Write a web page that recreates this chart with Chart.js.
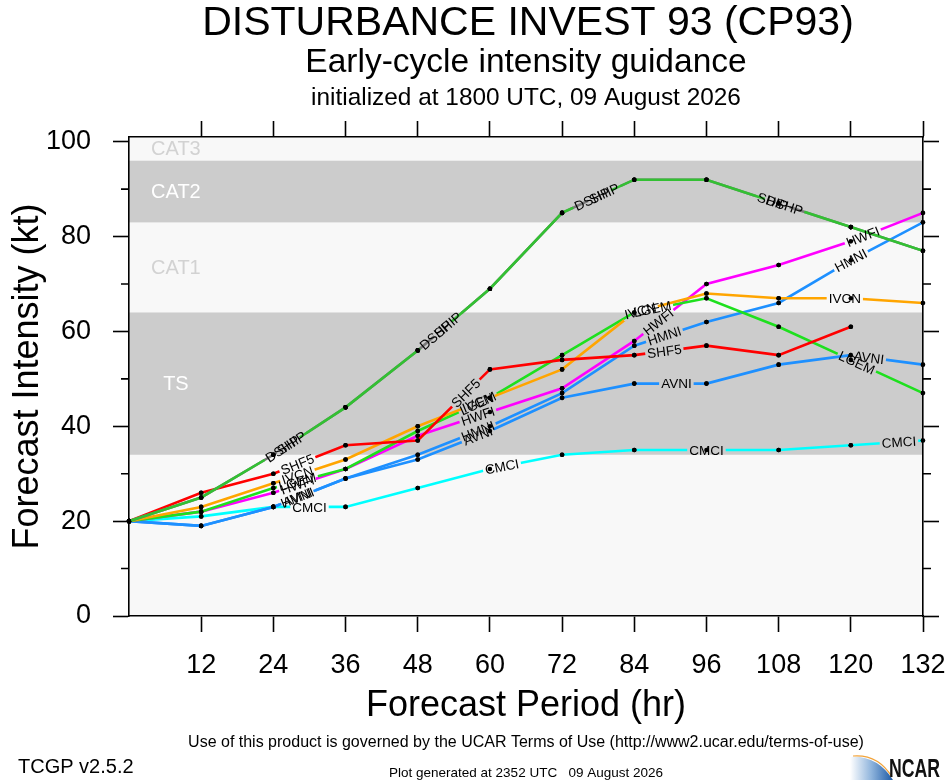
<!DOCTYPE html>
<html>
<head>
<meta charset="utf-8">
<script src="https://cdn.jsdelivr.net/npm/chart.js@4.4.1/dist/chart.umd.min.js"></script>
<style>
html,body{margin:0;padding:0;background:#fff;}
</style>
</head>
<body>
<canvas id="chart" width="946" height="780"></canvas>
<script>
// forecast hours and model intensities (kt)
const hours = [0, 12, 24, 36, 48, 60, 72, 84, 96, 108, 120, 132];
const DSHP = [20, 25, 34, 44, 56, 69, 85, 92, 92, 87, 82, 77];
const SHIP = [20, 25, 34, 44, 56, 69, 85, 92, 92, 87, 82, 77];
const SHF5 = [20, 26, 30, 36, 37, 52, 54, 55, 57, 55, 61, null];
const IVCN = [20, 23, 28, 33, 40, 46, 52, 64, 68, 67, 67, 66];
const LGEM = [20, 22, 27, 31, 39, 46, 55, 64, 67, 61, 54, 47];
const HWFI = [20, 22, 26, 31, 38, 43, 48, 58, 70, 74, 79, 85];
const HMNI = [20, 19, 23, 29, 34, 40, 47, 57, 62, 66, 75, 83];
const AVNI = [20, 19, 23, 29, 33, 39, 46, 49, 49, 53, 55, 53];
const CMCI = [20, 21, 23, 23, 27, 31, 34, 35, 35, 35, 36, 37];

// intensity category bands
const bandNames = ['TS', 'CAT1', 'CAT2', 'CAT3'];
const bandLow = [34, 64, 83, 96];
const bandHigh = [64, 83, 96, 113];

const FONT = "'Liberation Sans', Arial, Helvetica, sans-serif";
const LABEL_FONT = '13.5px ' + FONT;
Chart.defaults.font.family = FONT;

function mk(name, vals, color, labelAt) {
  return {
    label: name,
    data: hours.map((h, i) => ({x: h, y: vals[i]})),
    borderColor: color,
    backgroundColor: color,
    borderWidth: 2.6,
    pointRadius: 2.3,
    pointHoverRadius: 2.3,
    pointBackgroundColor: '#000',
    pointBorderWidth: 0,
    tension: 0,
    fill: false,
    labelAt: labelAt
  };
}

const datasets = [
  mk('DSHP', DSHP, '#33c033', [25.5, 51, 77, 109]),
  mk('SHIP', SHIP, '#7a7a7a', [27, 53, 79, 107]),
  mk('SHF5', SHF5, '#ff0000', [28, 56, 89]),
  mk('IVCN', IVCN, '#ffa500', [28, 58, 85, 119]),
  mk('LGEM', LGEM, '#1ee01e', [28, 58, 87, 121]),
  mk('HWFI', HWFI, '#ff00ff', [28, 58, 88, 122]),
  mk('HMNI', HMNI, '#1e90ff', [28, 58, 89, 120]),
  mk('AVNI', AVNI, '#1e90ff', [28, 58, 91, 123]),
  mk('CMCI', CMCI, '#00ffff', [30, 62, 96, 128])
];

// where along each line its name goes
function spotsFor(chart, ds) {
  const xs = chart.scales.x, ys = chart.scales.y;
  return (ds.labelAt || []).map(h => {
    const i = Math.min(Math.floor(h / 12), hours.length - 2);
    const v0 = ds.data[i].y, v1 = ds.data[i + 1].y;
    if (v0 == null || v1 == null) return null;
    const x0 = xs.getPixelForValue(hours[i]), x1 = xs.getPixelForValue(hours[i + 1]);
    const y0 = ys.getPixelForValue(v0), y1 = ys.getPixelForValue(v1);
    const t = (h - hours[i]) / (hours[i + 1] - hours[i]);
    return {x: x0 + (x1 - x0) * t, y: y0 + (y1 - y0) * t, a: Math.atan2(y1 - y0, x1 - x0)};
  }).filter(Boolean);
}

const bands = {
  id: 'bands',
  beforeDraw(chart) {
    const {ctx, chartArea: a, scales: {x, y}} = chart;
    ctx.save();
    ctx.fillStyle = '#f8f8f8';
    ctx.fillRect(a.left, a.top, a.width, a.height);
    ctx.font = '20px ' + FONT;
    ctx.textAlign = 'center';
    ctx.textBaseline = 'middle';
    bandNames.forEach((n, i) => {
      const top = y.getPixelForValue(Math.min(bandHigh[i], y.max));
      const bot = y.getPixelForValue(bandLow[i]);
      if (i % 2 === 0) {
        ctx.fillStyle = '#cccccc';
        ctx.fillRect(a.left, top, a.width, bot - top);
      }
      ctx.fillStyle = i % 2 === 0 ? '#ffffff' : '#d2d2d2';
      ctx.fillText(n, x.getPixelForValue(7.8), (top + bot) / 2 + 1);
    });
    ctx.restore();
  }
};

const lineLabels = {
  id: 'lineLabels',
  beforeDatasetDraw(chart, args) {
    const ds = chart.data.datasets[args.index];
    const ctx = chart.ctx;
    const spots = spotsFor(chart, ds);
    ctx.save();
    ctx.font = LABEL_FONT;
    const w = ctx.measureText(ds.label).width + 4, h = 12;
    ctx.beginPath();
    ctx.rect(0, 0, chart.width, chart.height);
    spots.forEach(s => {
      const c = Math.cos(s.a), sn = Math.sin(s.a);
      const pts = [[-w / 2, -h / 2], [w / 2, -h / 2], [w / 2, h / 2], [-w / 2, h / 2]]
        .map(([u, v]) => [s.x + u * c - v * sn, s.y + u * sn + v * c]);
      ctx.moveTo(pts[0][0], pts[0][1]);
      for (let k = 1; k < 4; k++) ctx.lineTo(pts[k][0], pts[k][1]);
      ctx.closePath();
    });
    ctx.clip('evenodd');
  },
  afterDatasetDraw(chart, args) {
    chart.ctx.restore();
    args.meta.data.forEach(p => { if (!p.skip) p.draw(chart.ctx, chart.chartArea); });
  },
  afterDatasetsDraw(chart) {
    const ctx = chart.ctx;
    ctx.save();
    ctx.font = LABEL_FONT;
    ctx.fillStyle = '#000';
    ctx.textAlign = 'center';
    ctx.textBaseline = 'middle';
    for (let i = chart.data.datasets.length - 1; i >= 0; i--) {
      const ds = chart.data.datasets[i];
      spotsFor(chart, ds).forEach(s => {
        ctx.save();
        ctx.translate(s.x, s.y);
        ctx.rotate(s.a);
        ctx.fillText(ds.label, 0, 1);
        ctx.restore();
      });
    }
    ctx.restore();
  }
};

function text(ctx, str, x, y, size, align) {
  ctx.font = size + 'px ' + FONT;
  ctx.textAlign = align || 'center';
  ctx.fillText(str, x, y);
}

const frame = {
  id: 'frame',
  afterDraw(chart) {
    const {ctx, chartArea: a, scales: {y}} = chart;
    ctx.save();
    // minor ticks on the intensity axes
    ctx.strokeStyle = '#000';
    ctx.lineWidth = 1.6;
    ctx.beginPath();
    for (let v = 10; v < y.max; v += 20) {
      const py = y.getPixelForValue(v);
      ctx.moveTo(a.left - 8, py); ctx.lineTo(a.left, py);
      ctx.moveTo(a.right, py); ctx.lineTo(a.right + 8, py);
    }
    ctx.stroke();

    const cx = (a.left + a.right) / 2;
    ctx.fillStyle = '#000';
    ctx.textBaseline = 'alphabetic';
    text(ctx, 'DISTURBANCE INVEST 93 (CP93)', cx + 2, 35, 41);
    text(ctx, 'Early-cycle intensity guidance', cx, 72, 33.5);
    text(ctx, 'initialized at 1800 UTC, 09 August 2026', cx, 105, 24.4);
    text(ctx, 'Use of this product is governed by the UCAR Terms of Use (http://www2.ucar.edu/terms-of-use)', cx, 747, 16);
    text(ctx, 'TCGP v2.5.2', 18, 773, 20, 'left');
    text(ctx, 'Plot generated at 2352 UTC   09 August 2026', cx, 777, 13.5);

    // NCAR logo
    const g = ctx.createLinearGradient(850, 0, 893, 0);
    g.addColorStop(0, 'rgba(255,255,255,1)');
    g.addColorStop(0.5, '#8fb4dc');
    g.addColorStop(1, '#1d5aa6');
    ctx.fillStyle = g;
    ctx.beginPath();
    ctx.moveTo(850, 757);
    ctx.quadraticCurveTo(877, 755, 893, 780);
    ctx.lineTo(850, 780);
    ctx.closePath();
    ctx.fill();
    ctx.strokeStyle = '#f2a33a';
    ctx.lineWidth = 1.2;
    ctx.beginPath();
    ctx.moveTo(853, 756);
    ctx.quadraticCurveTo(878, 754, 892, 777);
    ctx.stroke();
    ctx.fillStyle = '#111';
    ctx.translate(889, 777);
    ctx.scale(0.68, 1);
    ctx.font = 'bold 26px ' + FONT;
    ctx.textAlign = 'left';
    ctx.fillText('NCAR', 0, 0);
    ctx.restore();
  }
};

const hideZero = c => (c.tick && c.tick.value === 0) ? 'rgba(0,0,0,0)' : '#000';
const axisFont = {family: FONT, size: 27};
const noSidePad = s => { s.paddingLeft = 0; s.paddingRight = 0; s.paddingTop = 0; s.paddingBottom = 0; };

new Chart(document.getElementById('chart'), {
  type: 'line',
  data: {datasets},
  options: {
    responsive: false,
    animation: false,
    devicePixelRatio: 1,
    layout: {padding: {top: 121, right: 7, bottom: 52, left: 0}},
    plugins: {legend: {display: false}, tooltip: {enabled: false}},
    scales: {
      x: {
        type: 'linear', position: 'bottom', min: 0, max: 132,
        ticks: {stepSize: 12, autoSkip: false, maxTicksLimit: 20, maxRotation: 0,
          font: axisFont, color: '#000', padding: 17,
          callback: v => v === 0 ? '' : v},
        grid: {drawOnChartArea: false, drawTicks: true, tickLength: 16, tickWidth: 1.6, tickColor: hideZero},
        border: {color: '#000', width: 1.6},
        title: {display: true, text: 'Forecast Period (hr)', color: '#000',
          font: {family: FONT, size: 36}, padding: 0},
        afterFit: s => { s.height = 112; noSidePad(s); }
      },
      x2: {
        type: 'linear', position: 'top', min: 0, max: 132,
        ticks: {display: false, stepSize: 12, maxTicksLimit: 20},
        grid: {drawOnChartArea: false, drawTicks: true, tickLength: 16, tickWidth: 1.6, tickColor: hideZero},
        border: {color: '#000', width: 1.6},
        afterFit: noSidePad
      },
      y: {
        type: 'linear', position: 'left', min: 0, max: 101,
        ticks: {stepSize: 20, includeBounds: false, font: axisFont, color: '#000', padding: 22},
        grid: {drawOnChartArea: false, drawTicks: true, tickLength: 16, tickWidth: 1.6, tickColor: '#000'},
        border: {color: '#000', width: 1.6},
        title: {display: true, text: 'Forecast Intensity (kt)', color: '#000',
          font: {family: FONT, size: 36}, padding: {top: 6, bottom: 0}},
        afterFit: s => { s.width = 129; noSidePad(s); }
      },
      y2: {
        type: 'linear', position: 'right', min: 0, max: 101,
        ticks: {display: false, stepSize: 20, includeBounds: false},
        grid: {drawOnChartArea: false, drawTicks: true, tickLength: 16, tickWidth: 1.6, tickColor: '#000'},
        border: {color: '#000', width: 1.6},
        afterFit: s => { s.width = 16; noSidePad(s); }
      }
    }
  },
  plugins: [bands, lineLabels, frame]
});
</script>
</body>
</html>
